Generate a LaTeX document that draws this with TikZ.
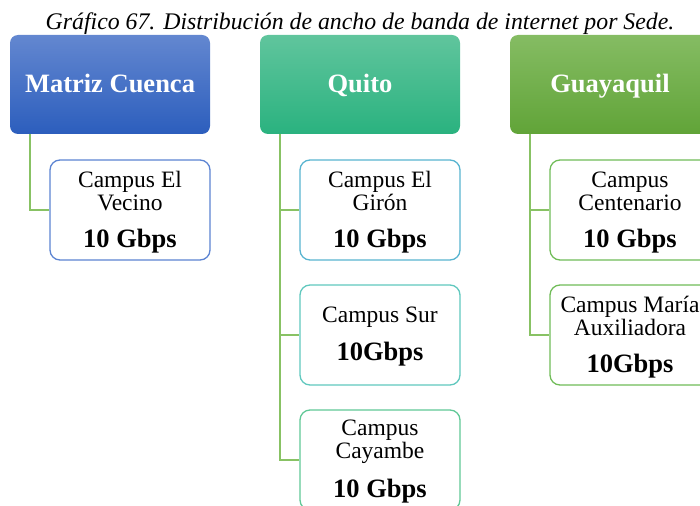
\documentclass[tikz,border=0pt]{standalone}
\usepackage{fontspec}
\setmainfont{Liberation Serif}
\definecolor{cuencaTop}{RGB}{99,135,208}
\definecolor{cuencaBot}{RGB}{44,94,189}
\definecolor{quitoTop}{RGB}{96,197,157}
\definecolor{quitoBot}{RGB}{42,178,127}
\definecolor{guayTop}{RGB}{133,188,99}
\definecolor{guayBot}{RGB}{97,164,56}
\definecolor{lineGreen}{RGB}{136,194,100}
\definecolor{bVecino}{RGB}{92,132,210}
\definecolor{bGiron}{RGB}{88,180,208}
\definecolor{bSur}{RGB}{96,200,190}
\definecolor{bCayambe}{RGB}{96,200,150}
\definecolor{bGuay}{RGB}{112,188,88}
\tikzset{
  header/.style={rounded corners=8pt, minimum width=200pt, minimum height=99pt,
    inner sep=0pt, text=white, font=\fontsize{26.5}{28}\selectfont\bfseries},
  child/.style={draw, line width=1.3pt, rounded corners=10pt, fill=white,
    minimum width=160pt, minimum height=100pt, inner sep=0pt, align=center,
    font=\fontsize{23.5}{23}\selectfont},
  conn/.style={draw=lineGreen, line width=1.4pt},
  ctext/.style={align=center, inner sep=0pt, font=\fontsize{23.5}{23}\selectfont},
}
\newcommand{\bw}[1]{{\fontsize{26.5}{28}\selectfont\bfseries #1}}
\begin{document}
\begin{tikzpicture}[x=1pt,y=-1pt]
\useasboundingbox (0,0) rectangle (700,505);
\clip (0,0) rectangle (700,505);
\node[font=\fontsize{23.8}{25}\selectfont\itshape, anchor=base] (title) at (360,29.5)
  {Gráfico 67. Distribución de ancho de banda de internet por Sede.};
% headers
\node[header, top color=cuencaTop, bottom color=cuencaBot] (cuenca) at (110,84.5) {};
\node[header, top color=quitoTop, bottom color=quitoBot] (quito) at (360,84.5) {};
\node[header, top color=guayTop, bottom color=guayBot] (guay) at (610,84.5) {};
\node[header, anchor=base, minimum height=0pt] (cuencaT) at (110,93) {Matriz Cuenca};
\node[header, anchor=base, minimum height=0pt] (quitoT) at (360,93) {Quito};
\node[header, anchor=base, minimum height=0pt] (guayT) at (610,93) {Guayaquil};
% children
\node[child, draw=bVecino] (vecino) at (130,210) {};
\node[child, draw=bGiron] (giron) at (380,210) {};
\node[child, draw=bSur] (sur) at (380,335) {};
\node[child, draw=bCayambe] (cayambe) at (380,460) {};
\node[child, draw=bGuay] (centenario) at (630,210) {};
\node[child, draw=bGuay] (maria) at (630,335) {};
% child texts (last baseline placed)
\node[ctext, anchor=base] (vecinoT) at (130,247) {Campus El\\Vecino\\[14pt]\bw{10 Gbps}};
\node[ctext, anchor=base] (gironT) at (380,247) {Campus El\\Girón\\[14pt]\bw{10 Gbps}};
\node[ctext, anchor=base] (surT) at (380,360) {Campus Sur\\[13pt]\bw{10Gbps}};
\node[ctext, anchor=base] (cayambeT) at (380,497) {Campus\\Cayambe\\[14pt]\bw{10 Gbps}};
\node[ctext, anchor=base] (centenarioT) at (630,247) {Campus\\Centenario\\[14pt]\bw{10 Gbps}};
\node[ctext, anchor=base] (mariaT) at (630,372) {Campus María\\Auxiliadora\\[14pt]\bw{10Gbps}};
% connectors
\coordinate (c0) at ([xshift=-80pt]cuenca.south);
\coordinate (q0) at ([xshift=-80pt]quito.south);
\coordinate (g0) at ([xshift=-80pt]guay.south);
\draw[conn] (c0) |- (vecino.west);
\draw[conn] (q0) |- (giron.west);
\draw[conn] (q0) |- (sur.west);
\draw[conn] (q0) |- (cayambe.west);
\draw[conn] (g0) |- (centenario.west);
\draw[conn] (g0) |- (maria.west);
\end{tikzpicture}
\end{document}
